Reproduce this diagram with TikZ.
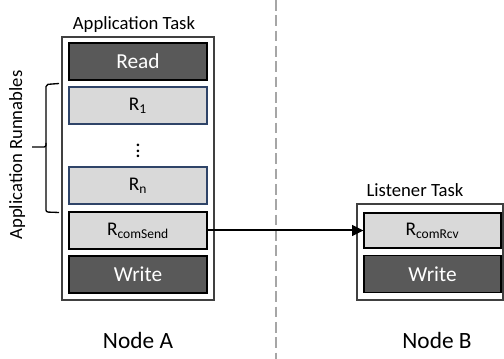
\documentclass[tikz,border=0pt]{standalone}
\usepackage{fontspec}
\setmainfont{Carlito}
\usetikzlibrary{arrows,arrows.meta,positioning}
\definecolor{darkbox}{HTML}{595959}
\definecolor{lightbox}{HTML}{D9D9D9}
\definecolor{runborder}{HTML}{2F4468}
\definecolor{taskborder}{HTML}{404040}
\definecolor{sepgray}{HTML}{A6A6A6}

\begin{document}
\begin{tikzpicture}[x=0.75pt,y=-0.75pt,
  task/.style={draw=taskborder, line width=0.9pt, fill=white},
  io/.style={draw=black, fill=darkbox, text=white, line width=0.9pt,
    minimum width=103.5pt, minimum height=27.75pt, font=\fontsize{16}{19}\selectfont},
  run/.style={draw=runborder, fill=lightbox, line width=0.9pt,
    minimum width=103.5pt, minimum height=27.75pt, font=\fontsize{14.5}{17}\selectfont},
  com/.style={run, draw=black},
  title/.style={anchor=base, font=\fontsize{14}{17}\selectfont},
  nodelbl/.style={font=\fontsize{17.5}{20}\selectfont}]

\useasboundingbox (0,0) rectangle (504,359);

% separator between the two nodes
\draw[sepgray, line width=1.1pt, dash pattern=on 8pt off 3.5pt] (276,0) -- (276,359);

% Node A
\node[task, minimum width=114pt, minimum height=197.25pt] (taskA) at (138,168.5) {};
\node[title] (titleA) at (134,30) {Application Task};
\node[io] (readA) at (138,61.5) {Read};
\node[run] (r1) at (138,105.5) {R\textsubscript{1}};
\node[font=\fontsize{16}{19}\selectfont\boldmath] (dots) at (138,147) {$\vdots$};
\node[run] (rn) at (138,185.5) {R\textsubscript{n}};
\node[com] (send) at (138,230.5) {R\textsubscript{comSend}};
\node[io] (writeA) at (138,274.5) {Write};

% brace over the runnables
\draw[line width=1pt, rounded corners=1.5pt] (59,83.5) -- (46,84.5) -- (46,212) -- (59,212.5);
\draw[line width=1pt, rounded corners=1.5pt] (46,143) -- (46,147) -- (32,147);
\node[title, rotate=90] (runlbl) at (22,155) {Application Runnables};

% Node B
\node[task, minimum width=109.5pt, minimum height=72pt] (taskB) at (430,252) {};
\node[title] (titleB) at (415,196.7) {Listener Task};
\node[com, minimum width=102.75pt, minimum height=26.25pt] (rcv) at (432.5,230.5) {R\textsubscript{comRcv}};
\node[io, minimum width=102.75pt] (writeB) at (432.5,274) {Write};

\draw[-{Triangle[length=8.5pt,width=8pt]}, line width=1.5pt] (send) -- (rcv);

\node[nodelbl] (nodeA) at (138,340) {Node A};
\node[nodelbl] (nodeB) at (437,340) {Node B};

\end{tikzpicture}
\end{document}
